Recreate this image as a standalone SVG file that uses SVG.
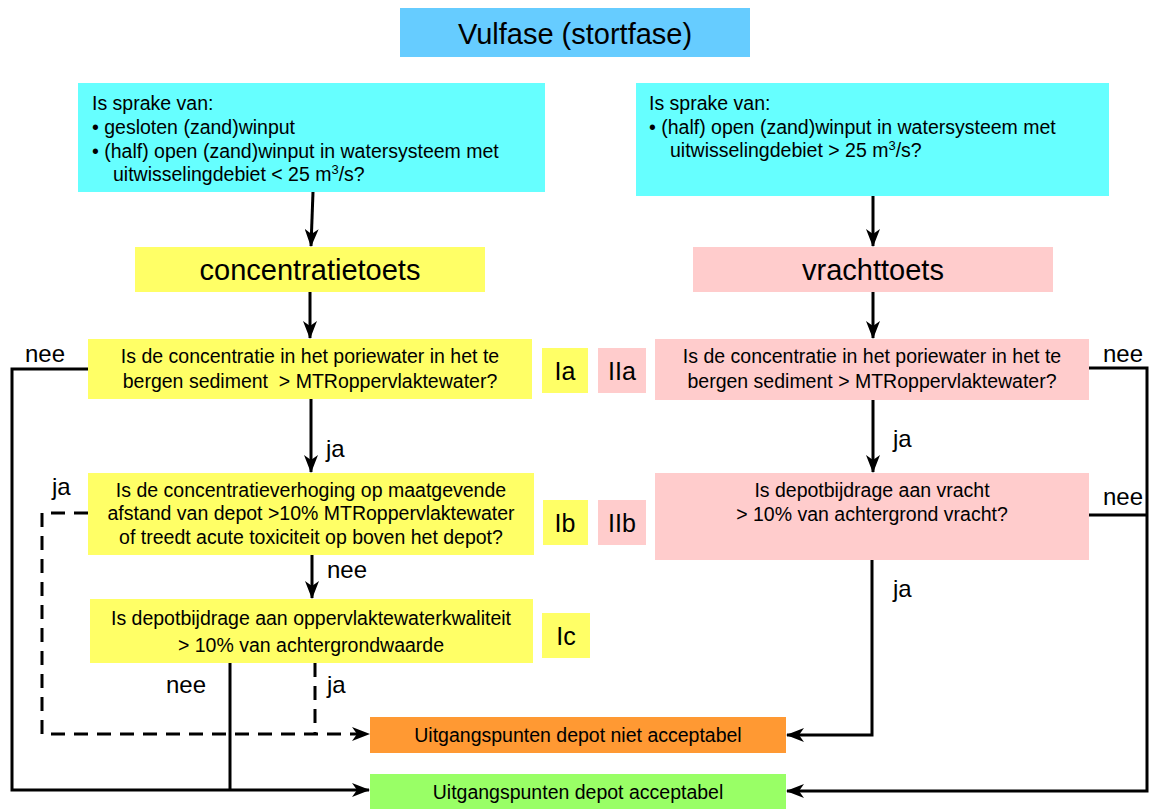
<svg xmlns="http://www.w3.org/2000/svg" width="1150" height="809" viewBox="0 0 1150 809">
<style>
text{font-family:"Liberation Sans",Arial,sans-serif;fill:#000}
.b{font-size:19.5px}
.c{text-anchor:middle}
.t{font-size:29px}
.l{font-size:25px}
.k{font-size:24px}
.ln{fill:none;stroke:#000;stroke-width:3}
.d{stroke-dasharray:14 9}
</style>
<defs>
<marker id="ah" markerUnits="userSpaceOnUse" markerWidth="18" markerHeight="14" viewBox="0 0 18 14" refX="17" refY="7" orient="auto">
<path d="M0,0 L18,7 L0,14 L5,7 z" fill="#000"/>
</marker>
</defs>
<rect width="1150" height="809" fill="#fff"/>
<g id="title"><rect x="400" y="8" width="350" height="49" fill="#66CCFF"/><text class="t c" x="575" y="44">Vulfase (stortfase)</text></g>
<g id="q-left"><rect x="78" y="83" width="467" height="109" fill="#66FFFF"/>
<text class="b" x="92" y="110">Is sprake van:</text>
<text class="b" x="92" y="134">• gesloten (zand)winput</text>
<text class="b" x="92" y="158">• (half) open (zand)winput in watersysteem met</text>
<text class="b" x="113" y="181">uitwisselingdebiet &lt; 25 m<tspan font-size="13" dy="-7">3</tspan><tspan dy="7">/s?</tspan></text></g>
<g id="q-right"><rect x="636" y="83" width="473" height="113" fill="#66FFFF"/>
<text class="b" x="649" y="110">Is sprake van:</text>
<text class="b" x="649" y="134">• (half) open (zand)winput in watersysteem met</text>
<text class="b" x="670" y="157">uitwisselingdebiet &gt; 25 m<tspan font-size="13" dy="-7">3</tspan><tspan dy="7">/s?</tspan></text></g>
<g id="conc"><rect x="135" y="247" width="350" height="45" fill="#FFFF66"/><text class="t c" x="310" y="280">concentratietoets</text></g>
<g id="vracht"><rect x="693" y="247" width="360" height="45" fill="#FFCCCC"/><text class="t c" x="873" y="280">vrachttoets</text></g>
<g id="Ia"><rect x="88" y="339" width="444" height="60" fill="#FFFF66"/>
<text class="b c" x="310" y="363">Is de concentratie in het poriewater in het te</text>
<text class="b c" x="310" y="388" xml:space="preserve">bergen sediment  &gt; MTRoppervlaktewater?</text></g>
<g id="Ia-label"><rect x="542" y="348" width="46" height="45" fill="#FFFF66"/><text class="l c" x="565" y="380">Ia</text></g>
<g id="IIa-label"><rect x="598" y="348" width="48" height="45" fill="#FFCCCC"/><text class="l c" x="622" y="380">IIa</text></g>
<g id="IIa"><rect x="655" y="339" width="434" height="61" fill="#FFCCCC"/>
<text class="b c" x="872" y="363">Is de concentratie in het poriewater in het te</text>
<text class="b c" x="872" y="388">bergen sediment &gt; MTRoppervlaktewater?</text></g>
<g id="Ib"><rect x="88" y="473" width="446" height="82" fill="#FFFF66"/>
<text class="b c" x="311" y="497">Is de concentratieverhoging op maatgevende</text>
<text class="b c" x="311" y="520">afstand van depot &gt;10% MTRoppervlaktewater</text>
<text class="b c" x="311" y="544">of treedt acute toxiciteit op boven het depot?</text></g>
<g id="Ib-label"><rect x="543" y="500" width="45" height="45" fill="#FFFF66"/><text class="l c" x="565" y="532">Ib</text></g>
<g id="IIb-label"><rect x="598" y="500" width="48" height="45" fill="#FFCCCC"/><text class="l c" x="622" y="532">IIb</text></g>
<g id="IIb"><rect x="655" y="473" width="434" height="87" fill="#FFCCCC"/>
<text class="b c" x="872" y="497">Is depotbijdrage aan vracht</text>
<text class="b c" x="872" y="521">&gt; 10% van achtergrond vracht?</text></g>
<g id="Ic"><rect x="90" y="599" width="443" height="64" fill="#FFFF66"/>
<text class="b c" x="311" y="625">Is depotbijdrage aan oppervlaktewaterkwaliteit</text>
<text class="b c" x="311" y="652">&gt; 10% van achtergrondwaarde</text></g>
<g id="Ic-label"><rect x="542" y="613" width="48" height="45" fill="#FFFF66"/><text class="l c" x="566" y="645">Ic</text></g>
<g id="niet"><rect x="370" y="717" width="416" height="36" fill="#FF9933"/><text class="b c" x="578" y="742">Uitgangspunten depot niet acceptabel</text></g>
<g id="acc"><rect x="370" y="774" width="416" height="35" fill="#99FF66"/><text class="b c" x="578" y="799">Uitgangspunten depot acceptabel</text></g>
<g id="connectors">
<path class="ln" d="M313,192 L311,246" marker-end="url(#ah)"/>
<path class="ln" d="M873,196 L873,246" marker-end="url(#ah)"/>
<path class="ln" d="M310,292 L310,338" marker-end="url(#ah)"/>
<path class="ln" d="M873,292 L873,338" marker-end="url(#ah)"/>
<path class="ln" d="M311,399 L311,472" marker-end="url(#ah)"/>
<path class="ln" d="M873,400 L873,472" marker-end="url(#ah)"/>
<path class="ln" d="M312,555 L312,598" marker-end="url(#ah)"/>
<path class="ln" d="M88,369 L12,369 L12,790 L369,790" marker-end="url(#ah)"/>
<path class="ln" d="M230,663 L230,790"/>
<path class="ln d" d="M88,513 L42,513 L42,734 L369,734" marker-end="url(#ah)"/>
<path class="ln d" d="M315,663 L315,734"/>
<path class="ln" d="M1089,368 L1147,368 L1147,791 L787,791" marker-end="url(#ah)"/>
<path class="ln" d="M1089,515 L1147,515"/>
<path class="ln" d="M872,560 L872,735 L787,735" marker-end="url(#ah)"/>
<text class="k" x="25" y="362">nee</text>
<text class="k" x="326" y="457">ja</text>
<text class="k" x="52" y="495">ja</text>
<text class="k" x="327" y="578">nee</text>
<text class="k" x="166" y="693">nee</text>
<text class="k" x="327" y="693">ja</text>
<text class="k" x="893" y="447">ja</text>
<text class="k" x="1103" y="362">nee</text>
<text class="k" x="1103" y="505">nee</text>
<text class="k" x="893" y="597">ja</text>
</g>
</svg>
